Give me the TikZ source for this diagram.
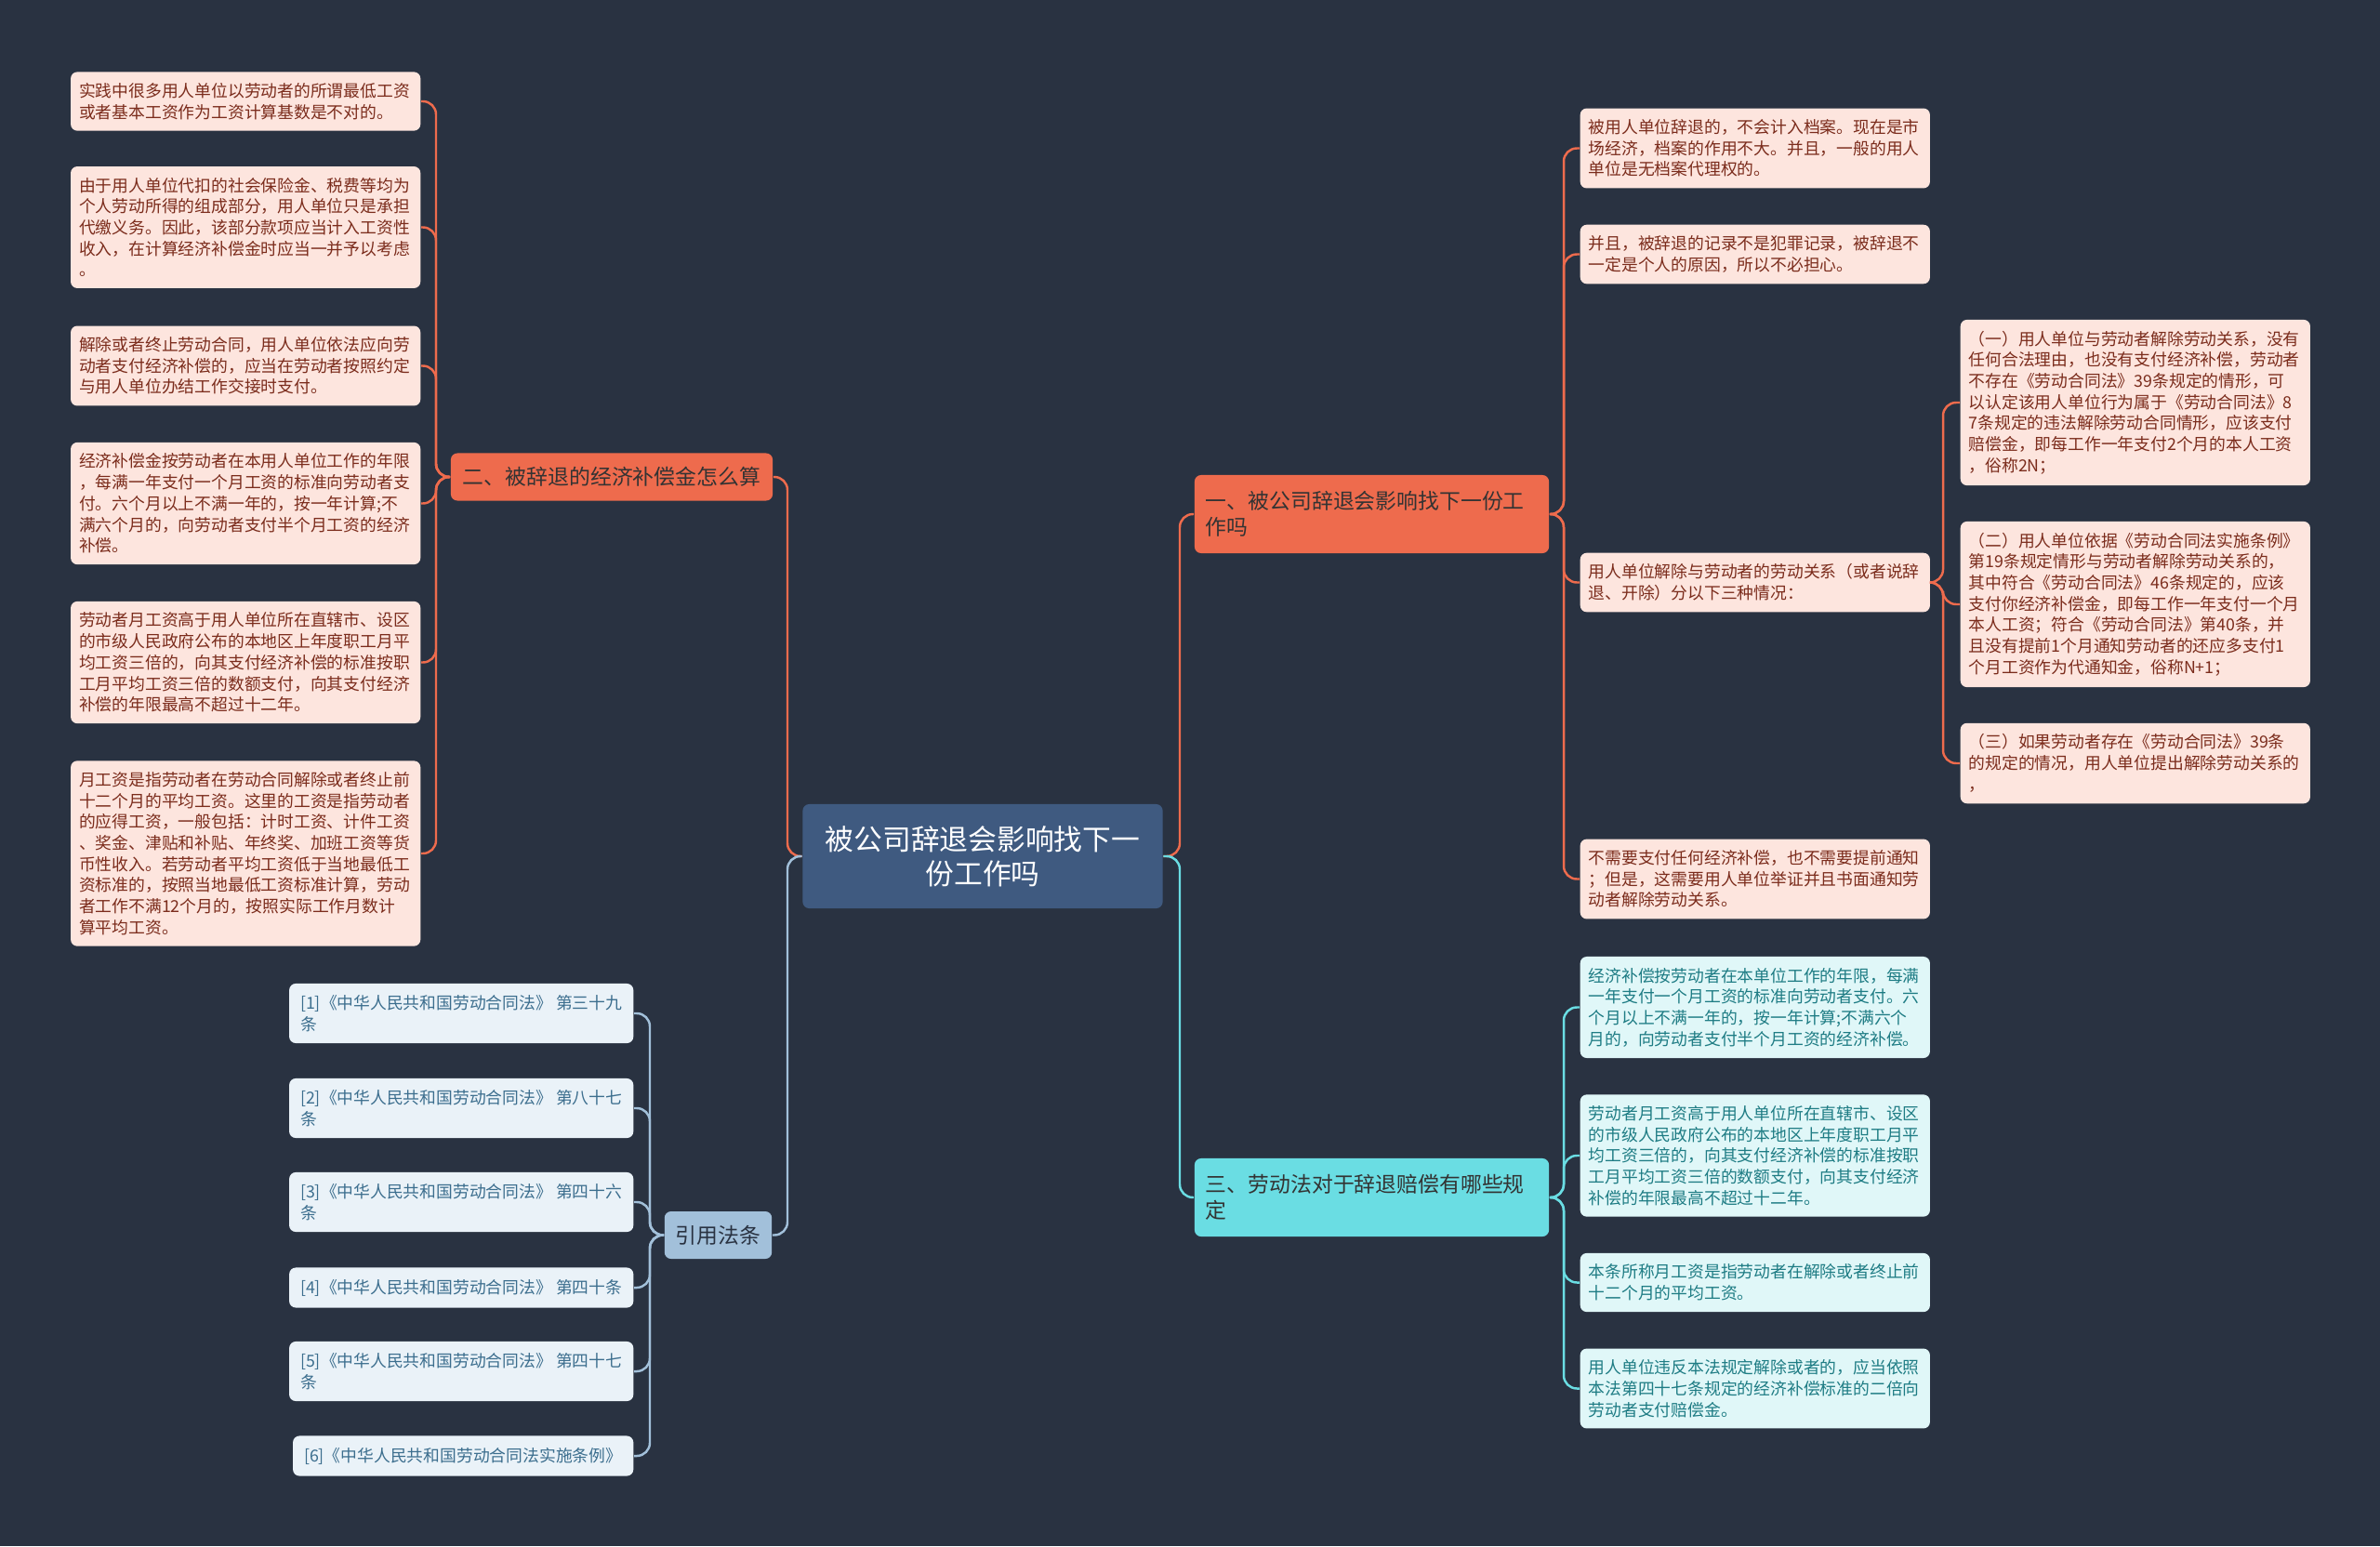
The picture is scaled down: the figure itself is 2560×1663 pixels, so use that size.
\documentclass[tikz,border=0pt]{standalone}
\usepackage{fontspec}
\setmainfont{Noto Sans CJK SC}
\usetikzlibrary{positioning}
\definecolor{bgdark}{HTML}{293241}
\definecolor{ctrblue}{HTML}{3F5A80}
\definecolor{brorange}{HTML}{EE6B4D}
\definecolor{brcyan}{HTML}{6ADDE3}
\definecolor{brsteel}{HTML}{A2C0DA}
\definecolor{leafpink}{HTML}{FDE5DE}
\definecolor{leafcyan}{HTML}{E0F7F8}
\definecolor{leafsteel}{HTML}{EAF2F8}
\definecolor{txtbrown}{HTML}{7B2C1C}
\definecolor{txtteal}{HTML}{1E7C84}
\definecolor{txtsteel}{HTML}{3C6E8E}
\tikzset{
    center/.style={
        rectangle, rounded corners=2pt, fill=ctrblue, text=white,
        minimum width=3.87cm, minimum height=1.12cm, align=center,
        font=\fontsize{8.75pt}{10.4pt}\selectfont
    },
    branch/.style={
        rectangle, rounded corners=2pt, text=black!80,
        minimum height=0.51cm, inner xsep=0.12cm,
        font=\fontsize{6.5pt}{8pt}\selectfont
    },
    leaf/.style={
        rectangle, rounded corners=2pt,
        text width=3.58cm, align=left, inner xsep=0.09cm, inner ysep=0.12cm,
        font=\fontsize{5.06pt}{6.45pt}\selectfont
    },
    leafo/.style={leaf, fill=leafpink, text=txtbrown},
    leafc/.style={leaf, fill=leafcyan, text=txtteal},
    cite/.style={
        rectangle, rounded corners=2pt, fill=leafsteel, text=txtsteel,
        align=left, inner xsep=0.12cm, inner ysep=0.125cm,
        font=\fontsize{5.06pt}{6.45pt}\selectfont
    },
    link/.style={line width=0.7pt, rounded corners=4pt}
}
\begin{document}
\begin{tikzpicture}[x=0.01cm, y=-0.01cm]
    \fill[bgdark] (0,0) rectangle (2560,1663);

    % Root and main branches
    \node[center] (ctr) at (1057,921) {被公司辞退会影响找下一\\份工作吗};
    \node[branch, fill=brorange, minimum width=3.46cm] (b2) at (658,513) {二、被辞退的经济补偿金怎么算};
    \node[branch, fill=brsteel, minimum width=1.15cm, text=bgdark] (cite) at (772.5,1328.5) {引用法条};
    \node[branch, fill=brorange, text width=3.57cm, align=left, minimum height=0.84cm] (b1) at (1475.5,553) {一、被公司辞退会影响找下一份工\\作吗};
    \node[branch, fill=brcyan, text width=3.57cm, align=left, minimum height=0.84cm] (b3) at (1475.5,1288) {三、劳动法对于辞退赔偿有哪些规\\定};

    % Left branch leaves
    \node[leafo, anchor=east] (l1) at (453,109) {实践中很多用人单位以劳动者的所谓最低工资\\或者基本工资作为工资计算基数是不对的。};
    \node[leafo, anchor=east] (l2) at (453,244.5) {由于用人单位代扣的社会保险金、税费等均为\\个人劳动所得的组成部分，用人单位只是承担\\代缴义务。因此，该部分款项应当计入工资性\\收入，在计算经济补偿金时应当一并予以考虑\\。};
    \node[leafo, anchor=east] (l3) at (453,393.5) {解除或者终止劳动合同，用人单位依法应向劳\\动者支付经济补偿的，应当在劳动者按照约定\\与用人单位办结工作交接时支付。};
    \node[leafo, anchor=east] (l4) at (453,541.5) {经济补偿金按劳动者在本用人单位工作的年限\\，每满一年支付一个月工资的标准向劳动者支\\付。六个月以上不满一年的，按一年计算;不\\满六个月的，向劳动者支付半个月工资的经济\\补偿。};
    \node[leafo, anchor=east] (l5) at (453,712.5) {劳动者月工资高于用人单位所在直辖市、设区\\的市级人民政府公布的本地区上年度职工月平\\均工资三倍的，向其支付经济补偿的标准按职\\工月平均工资三倍的数额支付，向其支付经济\\补偿的年限最高不超过十二年。};
    \node[leafo, anchor=east] (l6) at (453,918) {月工资是指劳动者在劳动合同解除或者终止前\\十二个月的平均工资。这里的工资是指劳动者\\的应得工资，一般包括：计时工资、计件工资\\、奖金、津贴和补贴、年终奖、加班工资等货\\币性收入。若劳动者平均工资低于当地最低工\\资标准的，按照当地最低工资标准计算，劳动\\者工作不满12个月的，按照实际工作月数计\\算平均工资。};

    % Citations
    \foreach \i/\y/\t in {1/1090/{[1]《中华人民共和国劳动合同法》 第三十九\\条},
                          2/1192/{[2]《中华人民共和国劳动合同法》 第八十七\\条},
                          3/1293/{[3]《中华人民共和国劳动合同法》 第四十六\\条},
                          4/1385/{[4]《中华人民共和国劳动合同法》 第四十条},
                          5/1475/{[5]《中华人民共和国劳动合同法》 第四十七\\条},
                          6/1566/{[6]《中华人民共和国劳动合同法实施条例》}} {
        \node[cite, anchor=east] (c\i) at (682,\y) {\t};
    }

    % Right branch one
    \node[leafo, anchor=west] (r1) at (1699,159.5) {被用人单位辞退的，不会计入档案。现在是市\\场经济，档案的作用不大。并且，一般的用人\\单位是无档案代理权的。};
    \node[leafo, anchor=west] (r2) at (1699,273.5) {并且，被辞退的记录不是犯罪记录，被辞退不\\一定是个人的原因，所以不必担心。};
    \node[leafo, anchor=west] (r3) at (1699,626.5) {用人单位解除与劳动者的劳动关系（或者说辞\\退、开除）分以下三种情况：};
    \node[leafo, anchor=west] (r4) at (1699,945.5) {不需要支付任何经济补偿，也不需要提前通知\\；但是，这需要用人单位举证并且书面通知劳\\动者解除劳动关系。};
    \node[leafo, anchor=west] (s1) at (2108,433) {（一）用人单位与劳动者解除劳动关系，没有\\任何合法理由，也没有支付经济补偿，劳动者\\不存在《劳动合同法》39条规定的情形，可\\以认定该用人单位行为属于《劳动合同法》8\\7条规定的违法解除劳动合同情形，应该支付\\赔偿金，即每工作一年支付2个月的本人工资\\，俗称2N；};
    \node[leafo, anchor=west] (s2) at (2108,650) {（二）用人单位依据《劳动合同法实施条例》\\第19条规定情形与劳动者解除劳动关系的，\\其中符合《劳动合同法》46条规定的，应该\\支付你经济补偿金，即每工作一年支付一个月\\本人工资；符合《劳动合同法》第40条，并\\且没有提前1个月通知劳动者的还应多支付1\\个月工资作为代通知金，俗称N+1；};
    \node[leafo, anchor=west] (s3) at (2108,821) {（三）如果劳动者存在《劳动合同法》39条\\的规定的情况，用人单位提出解除劳动关系的\\，};

    % Right branch three
    \node[leafc, anchor=west] (t1) at (1699,1083.5) {经济补偿按劳动者在本单位工作的年限，每满\\一年支付一个月工资的标准向劳动者支付。六\\个月以上不满一年的，按一年计算;不满六个\\月的，向劳动者支付半个月工资的经济补偿。};
    \node[leafc, anchor=west] (t2) at (1699,1243) {劳动者月工资高于用人单位所在直辖市、设区\\的市级人民政府公布的本地区上年度职工月平\\均工资三倍的，向其支付经济补偿的标准按职\\工月平均工资三倍的数额支付，向其支付经济\\补偿的年限最高不超过十二年。};
    \node[leafc, anchor=west] (t3) at (1699,1379.5) {本条所称月工资是指劳动者在解除或者终止前\\十二个月的平均工资。};
    \node[leafc, anchor=west] (t4) at (1699,1493.5) {用人单位违反本法规定解除或者的，应当依照\\本法第四十七条规定的经济补偿标准的二倍向\\劳动者支付赔偿金。};

    % Connectors
    \coordinate (cl) at (847,921);
    \coordinate (cr) at (1269,921);
    \coordinate (tl) at (469,513);
    \coordinate (tc) at (699,1328.5);
    \coordinate (tr1) at (1682,553);
    \coordinate (ts) at (2090,626.5);
    \coordinate (tr3) at (1682,1288);
    \draw[link, brorange] (ctr.west) -- (cl) |- (b2.east);
    \draw[link, brsteel] (ctr.west) -- (cl) |- (cite.east);
    \draw[link, brorange] (ctr.east) -- (cr) |- (b1.west);
    \draw[link, brcyan] (ctr.east) -- (cr) |- (b3.west);
    \foreach \n in {l1,l2,l3,l4,l5,l6}
        \draw[link, brorange] (b2.west) -- (tl) |- (\n.east);
    \foreach \n in {c1,c2,c3,c4,c5,c6}
        \draw[link, brsteel] (cite.west) -- (tc) |- (\n.east);
    \foreach \n in {r1,r2,r3,r4}
        \draw[link, brorange] (b1.east) -- (tr1) |- (\n.west);
    \foreach \n in {s1,s2,s3}
        \draw[link, brorange] (r3.east) -- (ts) |- (\n.west);
    \foreach \n in {t1,t2,t3,t4}
        \draw[link, brcyan] (b3.east) -- (tr3) |- (\n.west);
\end{tikzpicture}
\end{document}
